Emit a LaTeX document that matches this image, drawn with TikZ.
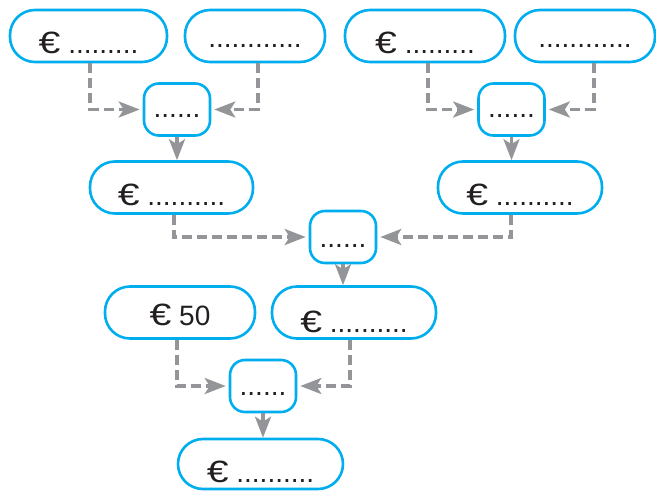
\documentclass[tikz,border=0pt]{standalone}
\usepackage{fontspec}
\usepackage{graphicx}
\setmainfont{Liberation Sans}
\usetikzlibrary{arrows.meta}
\definecolor{boxblue}{RGB}{0,174,239}
\definecolor{linegray}{RGB}{147,149,152}
\definecolor{txtc}{RGB}{35,31,32}
\newcommand{\eur}{\scalebox{1.4}[1.1]{€}}
\begin{document}
\begin{tikzpicture}[x=1pt,y=-1pt,
  pill/.style={draw=boxblue, line width=2.6pt, rounded corners=25pt, minimum height=52pt,
    inner sep=0pt, text=txtc, font=\fontsize{28}{30}\selectfont, text depth=0pt},
  smallbox/.style={pill, rounded corners=15pt, minimum width=66pt},
  th/.style={text height=#1},
  tipg/.tip={Stealth[length=21pt,width=16pt,inset=5pt]},
  gdash/.style={draw=linegray, line width=3.4pt, dash pattern=on 10pt off 5pt,
    -tipg, shorten >=3pt},
  garrow/.style={draw=linegray, line width=3.4pt, -tipg}
]
\useasboundingbox (0,0) rectangle (656,490);

% top row
\node[pill, minimum width=157pt, th=34pt] (A) at (88.5,36) {\eur\ .........};
\node[pill, minimum width=140pt, th=22pt] (B) at (255,36) {............};
\node[pill, minimum width=160pt, th=34pt] (C) at (425,36) {\eur\ .........};
\node[pill, minimum width=140pt, th=22pt] (D) at (585,36) {............};

\node[smallbox, th=16pt] (s1) at (177,109.5) {......};
\node[smallbox, th=16pt] (s2) at (511.5,109.5) {......};

\node[pill, minimum width=163pt, th=36pt] (E) at (171.5,187.5) {\eur\ ..........};
\node[pill, minimum width=164pt, th=36pt] (F) at (520,187.5) {\eur\ ..........};

\node[smallbox, th=20pt] (m) at (343,237) {......};

\node[pill, minimum width=150pt, th=25pt] (G) at (180,312.5) {\eur\ 50};
\node[pill, minimum width=164pt, th=39pt] (H) at (354,312.5) {\eur\ ..........};

\node[smallbox, th=18pt] (s3) at (263,386) {......};

\node[pill, minimum width=165pt, minimum height=50pt, th=36pt] (I) at (260.5,464) {\eur\ ..........};

% connectors
\draw[gdash] ([xshift=1.5pt]A.south) |- (s1.west);
\draw[gdash] ([xshift=3pt]B.south) |- (s1.east);
\draw[gdash] ([xshift=3pt]C.south) |- (s2.west);
\draw[gdash] ([xshift=9pt]D.south) |- (s2.east);
\draw[garrow] (s1.south) -- (s1.south |- E.north);
\draw[garrow] (s2.south) -- (s2.south |- F.north);
\draw[gdash] ([xshift=2.5pt]E.south) |- (m.west);
\draw[gdash] ([xshift=-9pt]F.south) |- (m.east);
\draw[garrow] (m.south) -- (m.south |- H.north);
\draw[gdash] ([xshift=-3pt]G.south) |- (s3.west);
\draw[gdash] ([xshift=-4pt]H.south) |- (s3.east);
\draw[garrow] (s3.south) -- (s3.south |- I.north);
\end{tikzpicture}
\end{document}
